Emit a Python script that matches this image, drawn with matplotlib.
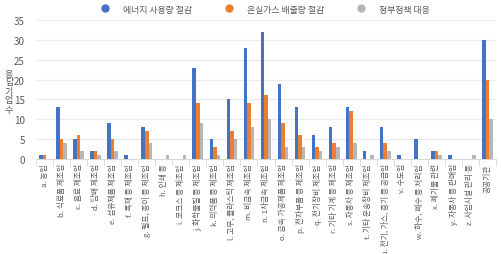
import matplotlib
matplotlib.use("Agg")
import matplotlib.pyplot as plt
import numpy as np

plt.rcParams['font.family'] = ['Noto Sans CJK KR', 'DejaVu Sans']

categories = ["a. 농업", "b. 식료품 제조업", "c. 음료 제조업", "d. 담배 제조업", "e. 섬유제품 제조업",
              "f. 목재 등 제조업", "g. 펄프, 종이 등 제조업", "h. 인쇄 등", "i. 코크스 등 제조업",
              "j. 화학물질 등 제조업", "k. 의약품 등 제조업", "l. 고무, 플라스틱 제조업", "m. 비금속 제조업",
              "n. 1차금속 제조업", "o. 금속 가공제품 제조업", "p. 전자부품 등 제조업", "q. 전기장비 제조업",
              "r. 기타 기계 등 제조업", "s. 자동차 등 제조업", "t. 기타 운송장비 제조업",
              "u. 전기, 가스, 증기 등 공급업", "v. 수도업", "w. 하수, 폐수 등 처리업", "x. 폐기물 관련",
              "y. 자동차 등 판매업", "z. 사업시설 관리 등", "공공기관"]
energy = [1, 13, 5, 2, 9, 1, 8, 0, 0, 23, 5, 15, 28, 32, 19, 13, 6, 8, 13, 2, 8, 1, 5, 2, 1, 0, 30]
ghg = [1, 5, 6, 2, 5, 0, 7, 0, 0, 14, 3, 7, 14, 16, 9, 6, 3, 4, 12, 0, 4, 0, 0, 2, 0, 0, 20]
policy = [0, 4, 2, 1, 2, 0, 4, 1, 1, 9, 1, 5, 8, 10, 3, 3, 2, 3, 4, 1, 2, 0, 0, 1, 0, 1, 10]
series_names = ["에너지 사용량 절감", "온실가스 배출량 절감", "정부정책 대응"]
colors = ["#4472C4", "#ED7D31", "#B7B7B7"]
ylabel = "응답기업수"

fig = plt.figure(figsize=(5.01, 2.55), dpi=100)
ax = fig.add_axes([36/501, 1-160/255, 460/501, 139/255])

x = np.arange(len(categories))
w = 0.21
for i, (vals, name, c) in enumerate(zip([energy, ghg, policy], series_names, colors)):
    ax.bar(x + (i - 1) * w, vals, width=w, color=c, label=name, zorder=3)

ax.set_xlim(-0.5, len(categories) - 0.5)
ax.set_ylim(0, 35)
ax.set_yticks(range(0, 36, 5))
ax.yaxis.grid(True, color="#EBEBEB", linewidth=0.8, zorder=0)
for s in ["top", "right", "left"]:
    ax.spines[s].set_visible(False)
ax.spines["bottom"].set_color("#D9D9D9")
ax.tick_params(axis="y", length=0, labelsize=7, labelcolor="#595959", pad=8)
ax.set_xticks(x)
ax.set_xticklabels(categories, rotation=90, fontsize=5.6, color="#595959")
ax.tick_params(axis="x", length=0, pad=3)
ax.set_xticks(np.arange(-0.5, len(categories), 1), minor=True)
ax.tick_params(axis="x", which="minor", length=5, color="#D9D9D9")

for k, ch in enumerate(ylabel):
    fig.text(9/501, 1 - (74 + k * 9) / 255, ch, fontsize=6.5, color="#595959",
             ha="center", va="center")

ax.legend(handles=[plt.Line2D([], [], marker="o", linestyle="", color=c, markersize=5, label=n)
                   for c, n in zip(colors, series_names)],
          loc="center", bbox_to_anchor=(263/501, 1 - 10/255), bbox_transform=fig.transFigure,
          ncol=3, frameon=False, fontsize=6.4, handletextpad=1.0, columnspacing=3.2,
          labelcolor="#595959")

fig.savefig("out.png", dpi=100)
